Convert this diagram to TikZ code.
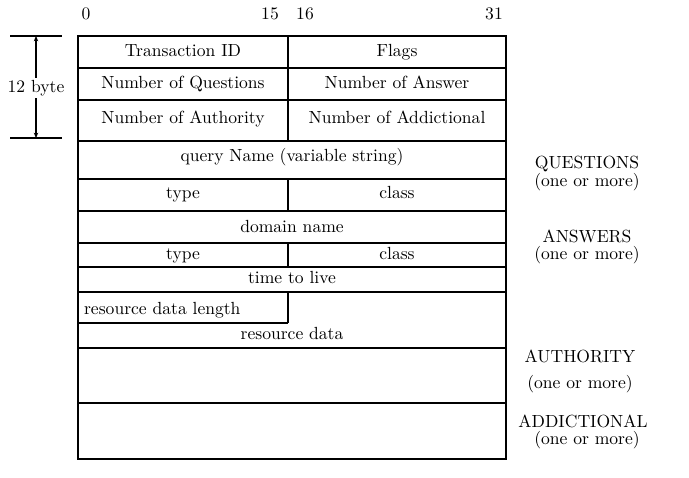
\documentclass[tikz,border=0pt]{standalone}
\usetikzlibrary{arrows.meta, positioning}

\begin{document}
\begin{tikzpicture}[
    x=0.02cm, y=-0.02cm,
    every node/.style={font=\rmfamily\normalsize, inner sep=1pt, text=black,
      text height=7pt, text depth=2pt},
    rowline/.style={draw=black, line width=1.1pt},
    secline/.style={draw=black, line width=1.6pt},
    dimline/.style={draw=black, line width=0.6pt},
    dimarr/.style={-{Stealth[length=3pt, width=2.5pt]}, line width=0.7pt, draw=black},
    seclabel/.style={font=\rmfamily\normalsize},
    subnote/.style={font=\rmfamily\normalsize}
  ]
  \useasboundingbox (0,0) rectangle (689,477);

  % bit numbers
  \node (bit0) at (86,15) {0};
  \node (bit15) at (270,15) {15};
  \node (bit16) at (305,15) {16};
  \node (bit31) at (494,15) {31};

  % frame and row lines
  \draw[secline] (78,36) rectangle (506,459);
  \foreach \y in {68,100,179,243,267,292}
    \draw[rowline] (78,\y) -- (506,\y);
  \foreach \y in {141,211,348,403}
    \draw[secline] (78,\y) -- (506,\y);
  \draw[rowline] (78,323) -- (288,323);
  \draw[secline] (288,36) -- (288,141);
  \foreach \a/\b in {179/211,243/267,292/323}
    \draw[rowline] (288,\a) -- (288,\b);

  % header (12 byte)
  \node (tid) at (183,52) {Transaction ID};
  \node (flags) at (397,52) {Flags};
  \node (nq) at (183,84) {Number of Questions};
  \node (nans) at (397,84) {Number of Answer};
  \node (nauth) at (183,119) {Number of Authority};
  \node (nadd) at (397,119) {Number of Addictional};

  % size of header
  \draw[dimline] (10,36) -- (62,36);
  \draw[dimline] (10,138) -- (62,138);
  \coordinate (hdrtop) at (36,36);
  \coordinate (hdrbot) at (36,138);
  \node (hdrsize) at (36,88) {12 byte};
  \draw[dimarr] (hdrsize) -- (hdrtop);
  \draw[dimarr] (hdrsize) -- (hdrbot);

  % question section
  \node (qname) at (292,157) {query Name (variable string)};
  \node (qtype) at (183,194) {type};
  \node (qclass) at (397,194) {class};

  % answer section
  \node (dname) at (292,228) {domain name};
  \node (atype) at (183,255) {type};
  \node (aclass) at (397,255) {class};
  \node (ttl) at (292,279) {time to live};
  \node[anchor=west] (rdlen) at (82,310) {resource data length};
  \node (rdata) at (292,335) {resource data};

  % section labels
  \node[seclabel] (qlbl) at (587,164) {QUESTIONS};
  \node[subnote] (qsub) at (587,182) {(one or more)};
  \node[seclabel] (albl) at (587,238) {ANSWERS};
  \node[subnote] (asub) at (587,255) {(one or more)};
  \node[seclabel] (authlbl) at (580,358) {AUTHORITY};
  \node[subnote] (authsub) at (580,384) {(one or more)};
  \node[seclabel] (addlbl) at (583,423) {ADDICTIONAL};
  \node[subnote] (addsub) at (587,440) {(one or more)};

\end{tikzpicture}
\end{document}
